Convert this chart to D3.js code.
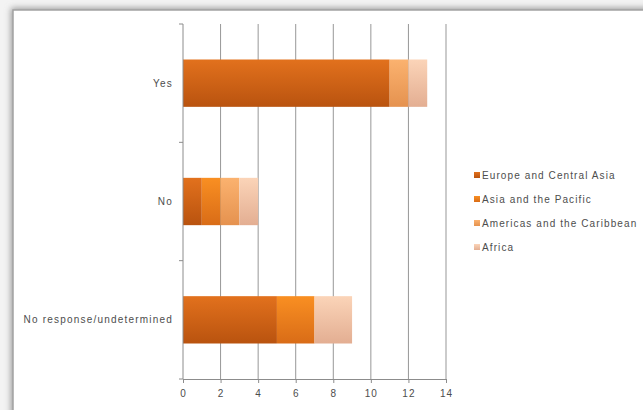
<!DOCTYPE html>
<meta charset="utf-8">
<style>
body { margin: 0; background: #f3f3f3; }
text { font-family: "Liberation Sans", Arial, sans-serif; fill: #4d4d4d; }
</style>
<svg width="643" height="410"></svg>
<script src="https://d3js.org/d3.v7.min.js"></script>
<script>

let categories = ['Yes', 'No', 'No response/undetermined'];
let seriesNames = ['Europe and Central Asia', 'Asia and the Pacific', 'Americas and the Caribbean', 'Africa'];
let europe = [11, 1, 5];
let asia = [0, 1, 2];
let americas = [1, 1, 0];
let africa = [1, 1, 2];
let xTicks = [0, 2, 4, 6, 8, 10, 12, 14];

// top / bottom shades of each series (bars have a soft vertical gradient)
let colorsTop = ['#e2711d', '#f98f22', '#fbb26f', '#fbd4b8'];
let colorsBottom = ['#b9530f', '#d96c17', '#e5924f', '#e3ae92'];

let svg = d3.select('svg');

let defs = svg.append('defs');
let shadow = defs.append('filter').attr('id', 'shadow')
    .attr('x', '-5%').attr('y', '-5%').attr('width', '110%').attr('height', '110%');
shadow.append('feGaussianBlur').attr('stdDeviation', 3);

seriesNames.forEach((s, i) => {
  let lg = defs.append('linearGradient').attr('id', 'g' + i)
      .attr('x1', 0).attr('y1', 0).attr('x2', 0).attr('y2', 1);
  lg.append('stop').attr('offset', '0%').attr('stop-color', colorsTop[i]);
  lg.append('stop').attr('offset', '100%').attr('stop-color', colorsBottom[i]);
});

// chart frame
svg.append('rect').attr('x', 11).attr('y', 8).attr('width', 640).attr('height', 410)
    .attr('fill', '#999').attr('filter', 'url(#shadow)');
svg.append('rect').attr('x', 13).attr('y', 10).attr('width', 640).attr('height', 410)
    .attr('fill', '#fff').attr('stroke', '#a3a3a3').attr('stroke-width', 1.5);

let x = d3.scaleLinear().domain([0, 14]).range([183, 446]);
let y = d3.scaleBand().domain(categories).range([24, 379]).paddingInner(0.6).paddingOuter(0.3);

// gridlines
svg.append('g').selectAll('line').data(xTicks.slice(1)).join('line')
    .attr('x1', d => x(d)).attr('x2', d => x(d))
    .attr('y1', 24).attr('y2', 379)
    .attr('stroke', '#979797').attr('stroke-width', 1);

// stacked bars
let table = categories.map((c, i) => ({
  cat: c, europe: europe[i], asia: asia[i], americas: americas[i], africa: africa[i]
}));
let stack = d3.stack().keys(['europe', 'asia', 'americas', 'africa'])(table);

svg.append('g').selectAll('g').data(stack).join('g')
    .attr('fill', (d, i) => 'url(#g' + i + ')')
  .selectAll('rect').data(d => d).join('rect')
    .attr('x', d => x(d[0]))
    .attr('width', d => x(d[1]) - x(d[0]))
    .attr('y', d => y(d.data.cat))
    .attr('height', y.bandwidth());

// y axis line + ticks between categories
let yAxis = svg.append('g');
yAxis.append('line').attr('x1', 183).attr('x2', 183).attr('y1', 24).attr('y2', 379)
    .attr('stroke', '#8c8c8c');
let step = y.step();
let bounds = [24].concat(categories.map(c => y(c) + y.bandwidth() / 2 + step / 2));
yAxis.selectAll('.tk').data(bounds).join('line')
    .attr('x1', 179).attr('x2', 183)
    .attr('y1', d => d).attr('y2', d => d)
    .attr('stroke', '#8c8c8c');
yAxis.selectAll('text').data(categories).join('text')
    .attr('x', 173)
    .attr('y', d => y(d) + y.bandwidth() / 2)
    .attr('dy', '0.35em')
    .attr('text-anchor', 'end')
    .attr('font-size', 10)
    .attr('letter-spacing', 1.2)
    .text(d => d);

// x axis
let xAxis = svg.append('g').attr('transform', 'translate(0,379)')
    .call(d3.axisBottom(x).tickValues(xTicks).tickSize(4).tickSizeOuter(0));
xAxis.select('.domain').attr('stroke', '#8c8c8c');
xAxis.selectAll('.tick line').attr('stroke', '#8c8c8c');
xAxis.selectAll('.tick text').attr('font-size', 10).attr('dy', '1.05em')
    .attr('letter-spacing', 1)
    .attr('fill', '#4d4d4d').style('font-family', '"Liberation Sans", Arial, sans-serif');

// legend
let legend = svg.append('g').selectAll('g').data(seriesNames).join('g')
    .attr('transform', (d, i) => 'translate(474,' + (175 + i * 24) + ')');
legend.append('rect').attr('x', 0).attr('y', -3).attr('width', 6).attr('height', 6)
    .attr('fill', (d, i) => 'url(#g' + i + ')');
legend.append('text').attr('x', 8).attr('dy', '0.35em')
    .attr('font-size', 10).attr('letter-spacing', 1.1).text(d => d);

</script>
